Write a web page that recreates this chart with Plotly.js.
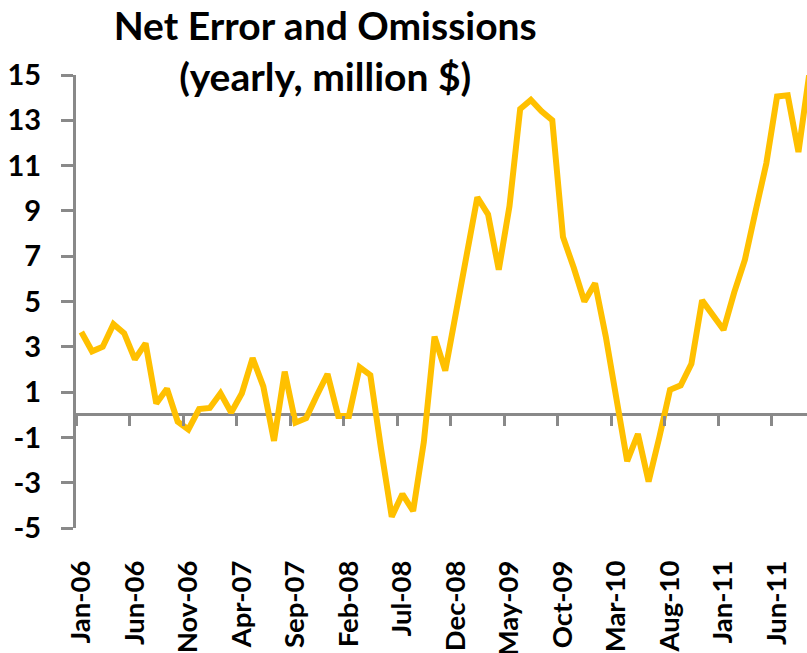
<!DOCTYPE html>
<html>
<head>
<meta charset="utf-8">
<script src="https://cdn.plot.ly/plotly-3.0.1.min.js"></script>
<style>
  html, body { margin: 0; padding: 0; background: #ffffff; }
  #chart { width: 807px; height: 653px; }
</style>
</head>
<body>
<div id="chart"></div>
<script>
// ---- data (monthly, Jan-06 .. Sep-11) ----
const months = [
  "Jan-06","Feb-06","Mar-06","Apr-06","May-06","Jun-06","Jul-06","Aug-06","Sep-06","Oct-06","Nov-06","Dec-06",
  "Jan-07","Feb-07","Mar-07","Apr-07","May-07","Jun-07","Jul-07","Aug-07","Sep-07","Oct-07","Nov-07","Dec-07",
  "Jan-08","Feb-08","Mar-08","Apr-08","May-08","Jun-08","Jul-08","Aug-08","Sep-08","Oct-08","Nov-08","Dec-08",
  "Jan-09","Feb-09","Mar-09","Apr-09","May-09","Jun-09","Jul-09","Aug-09","Sep-09","Oct-09","Nov-09","Dec-09",
  "Jan-10","Feb-10","Mar-10","Apr-10","May-10","Jun-10","Jul-10","Aug-10","Sep-10","Oct-10","Nov-10","Dec-10",
  "Jan-11","Feb-11","Mar-11","Apr-11","May-11","Jun-11","Jul-11","Aug-11","Sep-11"
];
const netErrorOmissions = [
  3.65, 2.8, 3.0, 4.0, 3.6, 2.45, 3.15, 0.5, 1.15, -0.3, -0.65, 0.25,
  0.3, 0.95, 0.1, 0.95, 2.5, 1.25, -1.15, 1.9, -0.35, -0.15, 0.85, 1.8,
  -0.05, -0.05, 2.1, 1.75, -1.5, -4.5, -3.5, -4.25, -1.2, 3.45, 1.95, 4.6,
  7.1, 9.6, 8.85, 6.4, 9.2, 13.5, 13.9, 13.4, 13.0, 7.85, 6.5, 5.0,
  5.8, 3.45, 0.7, -2.05, -0.85, -2.95, -1.0, 1.1, 1.3, 2.25, 5.05, 4.35,
  3.75, 5.4, 6.85, 9.0, 11.1, 14.05, 14.1, 11.6, 15.0
];
const xTickLabels = ["Jan-06","Jun-06","Nov-06","Apr-07","Sep-07","Feb-08","Jul-08",
  "Dec-08","May-09","Oct-09","Mar-10","Aug-10","Jan-11","Jun-11"];
const yTickValues = [-5, -3, -1, 1, 3, 5, 7, 9, 11, 13, 15];
const yTickLabels = ["-5", "-3", "-1", "1", "3", "5", "7", "9", "11", "13", "15"];
const chartTitle = "Net Error and Omissions<br>(yearly, million $)";

// ---- build ----
const xIdx = months.map((m, i) => i);
const labelIdx = xTickLabels.map(l => months.indexOf(l));
const boundaryIdx = labelIdx.map(i => i - 0.5);

const GRAY = "#898989";
const FONT = "Lato, 'Open Sans', sans-serif";
const xRange = [-0.5, 67.8];

const traces = [
  {
    x: xIdx, y: netErrorOmissions, type: "scatter", mode: "lines",
    line: { color: "#FFC000", width: 6 },
    xaxis: "x", yaxis: "y", hoverinfo: "skip", showlegend: false
  },
  {
    x: xIdx, y: netErrorOmissions, type: "scatter", mode: "lines",
    line: { color: "rgba(0,0,0,0)", width: 0 },
    xaxis: "x2", yaxis: "y", hoverinfo: "skip", showlegend: false
  }
];

const layout = {
  width: 807, height: 653,
  margin: { l: 76, r: 0, t: 75, b: 125, pad: 0 },
  paper_bgcolor: "#ffffff", plot_bgcolor: "#ffffff",
  showlegend: false,
  title: {
    text: chartTitle,
    font: { family: FONT, size: 39, color: "#000000", weight: "bold" },
    x: 0.403, xanchor: "center", xref: "container",
    y: 0.938, yanchor: "top", yref: "container"
  },
  xaxis: {
    type: "linear", range: xRange, anchor: "y",
    tickmode: "array", tickvals: labelIdx, ticktext: xTickLabels,
    tickangle: -90, ticks: "", showline: false, showgrid: false, zeroline: false,
    tickfont: { family: FONT, size: 27.5, color: "#000000", weight: "bold" },
    ticklabelstandoff: 26, automargin: false
  },
  xaxis2: {
    type: "linear", range: xRange, overlaying: "x", anchor: "free", position: 0.25,
    side: "bottom",
    tickmode: "array", tickvals: boundaryIdx,
    ticks: "outside", ticklen: 10, tickwidth: 3, tickcolor: GRAY,
    showticklabels: false, showline: false, showgrid: false, zeroline: false,
    automargin: false
  },
  yaxis: {
    range: [-5, 15],
    tickmode: "array", tickvals: yTickValues, ticktext: yTickLabels,
    ticks: "outside", ticklen: 12, tickwidth: 3, tickcolor: GRAY,
    showline: true, linecolor: GRAY, linewidth: 3,
    showgrid: false,
    zeroline: true, zerolinecolor: GRAY, zerolinewidth: 3,
    tickfont: { family: FONT, size: 29, color: "#000000", weight: "bold" },
    ticklabelstandoff: 14,
    automargin: false
  }
};

Plotly.newPlot("chart", traces, layout, { displayModeBar: false, staticPlot: true });
</script>
</body>
</html>
